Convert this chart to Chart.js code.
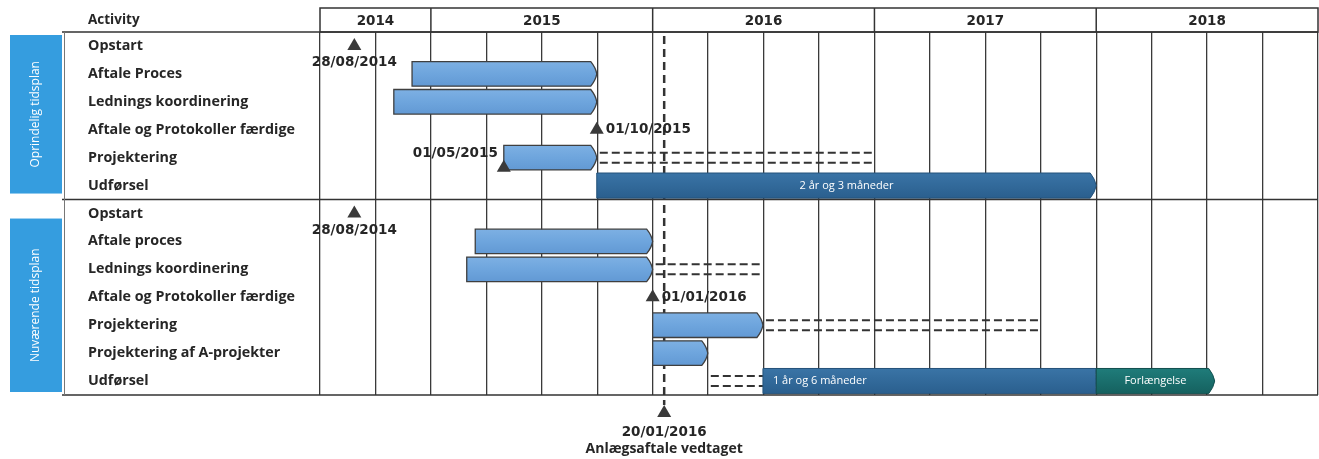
<!DOCTYPE html>
<html>
<head>
<meta charset="utf-8">
<script src="https://cdn.jsdelivr.net/npm/chart.js@4.4.1/dist/chart.umd.min.js"></script>
<style>
  body { margin: 0; background: #fff; }
</style>
</head>
<body>
<canvas id="gantt" width="1319" height="459"></canvas>
<script>
// rows, top half = original plan, bottom half = current plan
const rows = [
  'Opstart', 'Aftale Proces', 'Lednings koordinering', 'Aftale og Protokoller færdige',
  'Projektering', 'Udførsel',
  'Opstart', 'Aftale proces', 'Lednings koordinering', 'Aftale og Protokoller færdige',
  'Projektering', 'Projektering af A-projekter', 'Udførsel'
];
const planLabels = ['Oprindelig tidsplan', 'Nuværende tidsplan'];
const years = ['2014', '2015', '2016', '2017', '2018'];

const taskStart = [null, '2014-12-01', '2014-11-01', null, '2015-05-01', null,
                   null, '2015-03-15', '2015-03-01', null, '2016-01-01', '2016-01-01', null];
const taskEnd   = [null, '2015-10-01', '2015-10-01', null, '2015-10-01', null,
                   null, '2016-01-01', '2016-01-01', null, '2016-07-01', '2016-04-01', null];

const buildStart  = [null, null, null, null, null, '2015-10-01', null, null, null, null, null, null, '2016-07-01'];
const buildEnd    = [null, null, null, null, null, '2018-01-01', null, null, null, null, null, null, '2018-01-01'];
const buildLabels = [null, null, null, null, null, '2 år og 3 måneder', null, null, null, null, null, null, '1 år og 6 måneder'];

const extendStart = [null, null, null, null, null, null, null, null, null, null, null, null, '2018-01-01'];
const extendEnd   = [null, null, null, null, null, null, null, null, null, null, null, null, '2018-07-15'];
const extendLabel = 'Forlængelse';

// dashed slack after a task
const slackStart = [null, null, null, null, '2015-10-01', null, null, null, '2016-01-01', null, '2016-07-01', null, '2016-04-01'];
const slackEnd   = [null, null, null, null, '2017-01-01', null, null, null, '2016-07-01', null, '2017-10-01', null, '2016-07-01'];

const milestoneRows  = [0, 3, 4, 6, 9];
const milestoneDates = ['2014-08-28', '2015-10-01', '2015-05-01', '2014-08-28', '2016-01-01'];

const decisionDate = '2016-01-20';
const decisionLabel = 'Anlægsaftale vedtaget';

function toYear(s) {
  const [y, m, d] = s.split('-').map(Number);
  const t0 = Date.UTC(y, 0, 1), t1 = Date.UTC(y + 1, 0, 1);
  return y + (Date.UTC(y, m - 1, d) - t0) / (t1 - t0);
}
function fmt(s) {
  const [y, m, d] = s.split('-');
  return d + '/' + m + '/' + y;
}
function pairs(a, b) {
  return a.map((s, i) => s ? [toYear(s), toYear(b[i])] : null);
}

// label placement: where the date goes relative to the triangle
const milestonePlace = ['below', 'right', 'leftLow', 'below', 'right'];

const FONT = '"Open Sans", Lato, sans-serif';
const WIDE = '"DejaVu Sans", Verdana, sans-serif';
const INK = '#262626';

function chevron(ctx, x0, x1, yc, h, tip) {
  const t = yc - h / 2, b = yc + h / 2;
  ctx.beginPath();
  ctx.moveTo(x0, t);
  ctx.lineTo(x1 - tip, t);
  ctx.quadraticCurveTo(x1 - 1, yc - h / 4, x1, yc);
  ctx.quadraticCurveTo(x1 - 1, yc + h / 4, x1 - tip, b);
  ctx.lineTo(x0, b);
  ctx.closePath();
}

function triangle(ctx, x, y) {
  ctx.beginPath();
  ctx.moveTo(x, y - 6);
  ctx.lineTo(x + 7, y + 6);
  ctx.lineTo(x - 7, y + 6);
  ctx.closePath();
  ctx.fillStyle = '#3a3a3a';
  ctx.fill();
}

const ganttPlugin = {
  id: 'gantt',
  afterDatasetsDraw(chart) {
    const ctx = chart.ctx;
    const xs = chart.scales.x, ys = chart.scales.y;
    const area = chart.chartArea;
    const divY = (ys.getPixelForValue(5) + ys.getPixelForValue(6)) / 2;

    ctx.save();

    // decision line
    const dx = xs.getPixelForValue(toYear(decisionDate));
    ctx.strokeStyle = '#333';
    ctx.lineWidth = 2.5;
    ctx.setLineDash([8, 5]);
    ctx.beginPath();
    ctx.moveTo(dx, area.top + 4);
    ctx.lineTo(dx, area.bottom + 10);
    ctx.stroke();

    // slack dashes
    ctx.lineWidth = 2;
    ctx.setLineDash([8, 4]);
    slackStart.forEach((s, i) => {
      if (!s) return;
      const x0 = xs.getPixelForValue(toYear(s)) + 3;
      const x1 = xs.getPixelForValue(toYear(slackEnd[i]));
      const yc = ys.getPixelForValue(i);
      ctx.beginPath();
      ctx.moveTo(x0, yc - 5); ctx.lineTo(x1, yc - 5);
      ctx.moveTo(x0, yc + 5); ctx.lineTo(x1, yc + 5);
      ctx.stroke();
    });
    ctx.setLineDash([]);

    // bars
    const fills = [
      (t, b) => { const g = ctx.createLinearGradient(0, t, 0, b); g.addColorStop(0, '#7db0e3'); g.addColorStop(0.5, '#6ea5dd'); g.addColorStop(1, '#6299d4'); return g; },
      (t, b) => { const g = ctx.createLinearGradient(0, t, 0, b); g.addColorStop(0, '#3a74a6'); g.addColorStop(1, '#2a5f8e'); return g; },
      (t, b) => { const g = ctx.createLinearGradient(0, t, 0, b); g.addColorStop(0, '#1f7c7a'); g.addColorStop(1, '#15615f'); return g; }
    ];
    const outlines = ['#3f3f3f', '#24527a', '#12504f'];
    [0, 1, 2].forEach(di => {
      const meta = chart.getDatasetMeta(di);
      meta.data.forEach((el, i) => {
        if (!chart.data.datasets[di].data[i]) return;
        const x0 = Math.min(el.base, el.x), x1 = Math.max(el.base, el.x);
        const h = el.height;
        const tipNext = di === 1 && extendStart[i];
        chevron(ctx, x0, x1, el.y, h, tipNext ? 0.01 : 6);
        ctx.fillStyle = fills[di](el.y - h / 2, el.y + h / 2);
        ctx.fill();
        ctx.lineWidth = di === 0 ? 1.3 : 1;
        ctx.strokeStyle = outlines[di];
        ctx.stroke();
      });
    });

    // bar texts
    ctx.fillStyle = '#fff';
    ctx.font = '11px ' + FONT;
    ctx.textBaseline = 'middle';
    chart.getDatasetMeta(1).data.forEach((el, i) => {
      if (!buildLabels[i]) return;
      if (extendStart[i]) {
        ctx.textAlign = 'left';
        ctx.fillText(buildLabels[i], el.base + 10, el.y);
      } else {
        ctx.textAlign = 'center';
        ctx.fillText(buildLabels[i], (el.base + el.x) / 2, el.y);
      }
    });
    chart.getDatasetMeta(2).data.forEach((el, i) => {
      if (!extendStart[i]) return;
      ctx.textAlign = 'center';
      ctx.fillText(extendLabel, (el.base + el.x) / 2, el.y);
    });

    // milestones
    ctx.font = 'bold 13.5px ' + WIDE;
    milestoneRows.forEach((r, k) => {
      const x = xs.getPixelForValue(toYear(milestoneDates[k]));
      const yc = ys.getPixelForValue(r);
      const place = milestonePlace[k];
      const ty = place === 'leftLow' ? yc + 8 : yc - 2;
      triangle(ctx, x, ty);
      ctx.fillStyle = INK;
      if (place === 'below') {
        ctx.textAlign = 'center';
        ctx.fillText(fmt(milestoneDates[k]), x, yc + 17);
      } else if (place === 'right') {
        ctx.textAlign = 'left';
        ctx.fillText(fmt(milestoneDates[k]), x + 9, yc);
      } else {
        ctx.textAlign = 'right';
        ctx.fillText(fmt(milestoneDates[k]), x - 6, yc - 4);
      }
    });

    // decision marker
    triangle(ctx, dx, area.bottom + 16);
    ctx.fillStyle = INK;
    ctx.textAlign = 'center';
    ctx.font = 'bold 13.5px ' + WIDE;
    ctx.fillText(fmt(decisionDate), dx, area.bottom + 37);
    ctx.font = 'bold 14px ' + FONT;
    ctx.fillText(decisionLabel, dx, area.bottom + 54);

    // frame lines
    ctx.strokeStyle = '#333';
    ctx.lineWidth = 1.5;
    ctx.beginPath();
    [area.top, divY, area.bottom].forEach(y => {
      ctx.moveTo(62, y); ctx.lineTo(area.right, y);
    });
    ctx.stroke();
    ctx.strokeStyle = '#777';
    ctx.lineWidth = 1;
    ctx.beginPath();
    ctx.moveTo(64.5, area.top); ctx.lineTo(64.5, area.bottom);
    ctx.stroke();

    // year header
    const hTop = 8;
    ctx.strokeStyle = '#333';
    ctx.lineWidth = 1.5;
    ctx.strokeRect(area.left, hTop, area.right - area.left, area.top - hTop);
    ctx.font = 'bold 13.5px ' + WIDE;
    ctx.fillStyle = INK;
    ctx.textAlign = 'center';
    years.forEach(y => {
      const a = Math.max(xs.getPixelForValue(+y), area.left);
      const b = Math.min(xs.getPixelForValue(+y + 1), area.right);
      if (+y > xs.min) {
        ctx.beginPath(); ctx.moveTo(a, hTop); ctx.lineTo(a, area.top); ctx.stroke();
      }
      ctx.fillText(y, (a + b) / 2, (hTop + area.top) / 2 + 1);
    });
    ctx.textAlign = 'left';
    ctx.font = 'bold 13.5px ' + FONT;
    ctx.fillText('Activity', 88, 20);

    // plan side boxes
    const boxes = [[area.top + 3, divY - 6], [divY + 19, area.bottom - 3]];
    boxes.forEach(([t, b], k) => {
      ctx.fillStyle = '#359ddf';
      ctx.fillRect(10, t, 52, b - t);
      ctx.save();
      ctx.translate(36, (t + b) / 2);
      ctx.rotate(-Math.PI / 2);
      ctx.fillStyle = '#fff';
      ctx.font = '12px ' + FONT;
      ctx.textAlign = 'center';
      ctx.textBaseline = 'middle';
      ctx.fillText(planLabels[k], 0, 0);
      ctx.restore();
    });

    ctx.restore();
  }
};

new Chart(document.getElementById('gantt'), {
  type: 'bar',
  data: {
    labels: rows,
    datasets: [
      { label: 'Aktivitet', data: pairs(taskStart, taskEnd), backgroundColor: 'rgba(0,0,0,0)', grouped: false, barPercentage: 0.88, categoryPercentage: 1 },
      { label: 'Udførsel', data: pairs(buildStart, buildEnd), backgroundColor: 'rgba(0,0,0,0)', grouped: false, barPercentage: 0.9, categoryPercentage: 1 },
      { label: 'Forlængelse', data: pairs(extendStart, extendEnd), backgroundColor: 'rgba(0,0,0,0)', grouped: false, barPercentage: 0.9, categoryPercentage: 1 }
    ]
  },
  options: {
    indexAxis: 'y',
    responsive: false,
    animation: false,
    layout: { padding: { top: 32, left: 88, right: 1, bottom: 64 } },
    plugins: { legend: { display: false }, tooltip: { enabled: false } },
    scales: {
      x: {
        type: 'linear',
        min: 2014.5,
        max: 2019,
        ticks: { display: false, stepSize: 0.25 },
        grid: { color: '#3a3a3a', lineWidth: 1.3, drawTicks: false },
        border: { display: false }
      },
      y: {
        grid: { display: false },
        border: { display: false },
        afterFit(scale) { scale.width = 232; },
        ticks: {
          crossAlign: 'far',
          padding: 0,
          color: INK,
          font: { family: FONT, size: 14.3, weight: 'bold' }
        }
      }
    }
  },
  plugins: [ganttPlugin]
});
</script>
</body>
</html>
